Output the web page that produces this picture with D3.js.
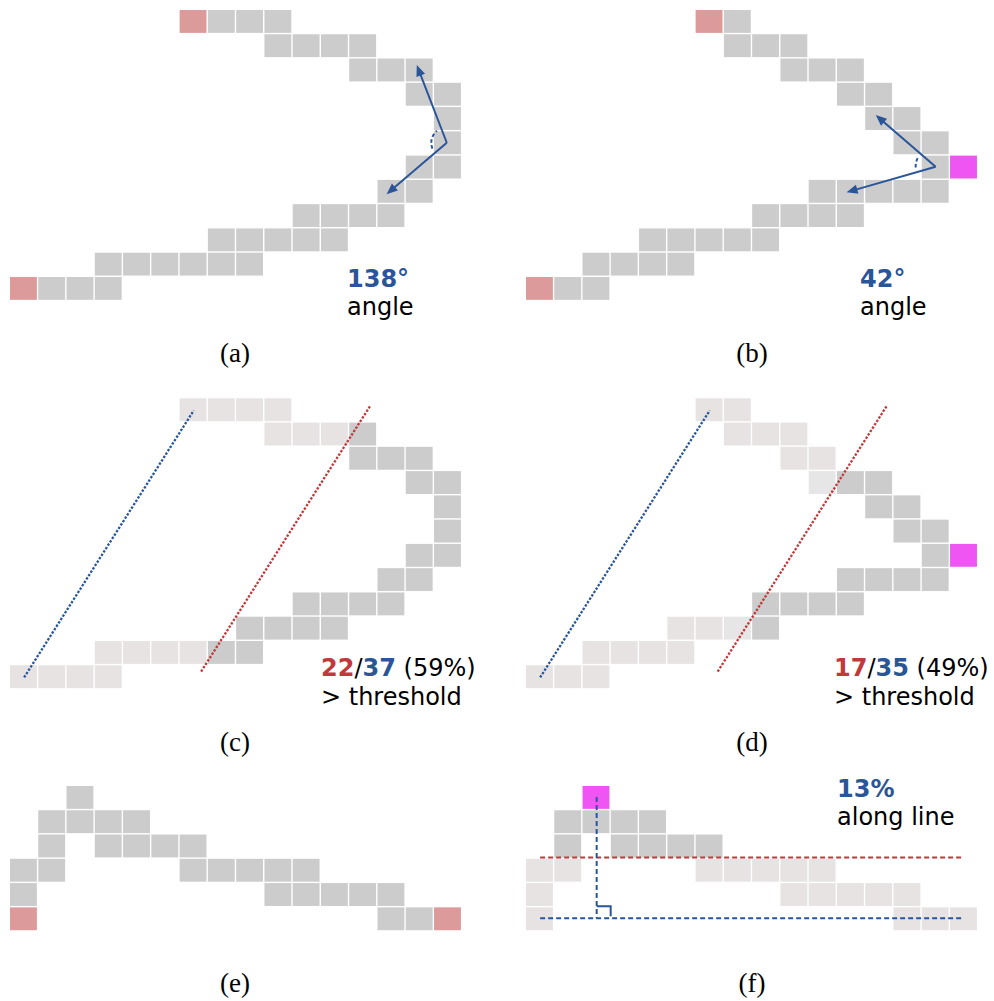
<!DOCTYPE html>
<html>
<head>
<meta charset="utf-8">
<script src="https://cdn.jsdelivr.net/npm/d3@7"></script>
<style>
  html, body { margin: 0; padding: 0; background: #fff; }
  svg { display: block; }
</style>
</head>
<body>
<div id="chart"></div>
<script>
// ---------------- data ----------------
// Each panel: list of rows (top→bottom), each row lists occupied column indices.
const rowsA = [[6,7,8,9],[9,10,11,12],[12,13,14],[14,15],[15],[15],[14,15],[13,14],[10,11,12,13],[7,8,9,10,11],[3,4,5,6,7,8],[0,1,2,3]];
const endsA = [[6,0],[0,11]];
const rowsB = [[6,7],[7,8,9],[9,10,11],[11,12],[12,13],[13,14],[14],[10,11,12,13,14],[8,9,10,11],[4,5,6,7,8],[2,3,4,5],[0,1,2]];
const endsB = [[6,0],[0,11]];
const pivotB = [15,6];

const rowsCDark  = [[],[12],[12,13,14],[14,15],[15],[15],[14,15],[13,14],[10,11,12,13],[8,9,10,11],[7,8],[]];
const rowsCLight = [[6,7,8,9],[9,10,11],[],[],[],[],[],[],[],[],[3,4,5,6],[0,1,2,3]];
const rowsDDark  = [[],[],[],[11,12],[12,13],[13,14],[14],[11,12,13,14],[8,9,10,11],[8],[],[]];
const rowsDLight = [[6,7],[7,8,9],[9,10],[],[],[],[],[],[],[5,6],[2,3,4,5],[0,1,2]];
const cellsDFaint = [[10,3],[7,9]];
const pivotD = [15,6];

const rowsE = [[2],[1,2,3,4],[1,3,4,5,6],[0,1,6,7,8,9,10],[0,9,10,11,12,13],[0,13,14,15]];
const endsE = [[0,5],[15,5]];
const rowsFDark  = [[],[1,2,3,4],[1,3,4,5,6],[],[],[]];
const rowsFLight = [[],[],[],[0,1,6,7,8,9,10],[0,9,10,11,12,13],[0,13,14,15]];
const pivotF = [2,0];

// annotation geometry in grid units
const arrowA = {vertex:[15.45,5.47], tips:[[14.39,2.27],[13.32,7.59]]};
const arrowB = {vertex:[14.49,6.46], tips:[[12.37,4.33],[11.34,7.51]]};
const blueLineC = [[0.5,11.5],[6.5,0.5]];
const redLineC  = [[6.76,11.26],[12.76,0.28]];
const blueLineD = [[0.5,11.5],[6.5,0.5]];
const redLineD  = [[6.78,11.26],[12.78,0.28]];
const redLineF  = [[0.5,2.95],[15.4,2.95]];
const blueLineF = [[0.5,5.45],[15.4,5.45]];
const perpF     = [[2.5,0.45],[2.5,5.45]];

// labels
const angleA = "138°", angleB = "42°";
const countC = ["22","37","(59%)"], countD = ["17","35","(49%)"];
const alongF = "13%";
const captions = ["(a)","(b)","(c)","(d)","(e)","(f)"];

// ---------------- style ----------------
const C_GRAY = "#cccccc", C_LIGHT = "#e7e3e3", C_FAINT = "#e6e6e6",
      C_PINK = "#dc9a9a", C_MAG = "#ef55f2", C_BLUE = "#2a5699", C_RED = "#c0393b";
const PX = 28.27, PY = 24.27, GAP = 1.4;
const FONT = "DejaVu Sans, sans-serif";
const FS = 24;

const svg = d3.select("#chart").append("svg").attr("width", 994).attr("height", 1001);

function panel(ox, oy) {
  return {
    x: d3.scaleLinear().domain([0,16]).range([ox, ox + 16*PX]),
    y: d3.scaleLinear().domain([0,12]).range([oy, oy + 12*PY]),
    g: svg.append("g")
  };
}
function rowsToCells(rows) {
  const out = [];
  rows.forEach((cols, r) => cols.forEach(c => out.push([c, r])));
  return out;
}
function drawCells(p, cells, color) {
  p.g.selectAll(null).data(cells).enter().append("rect")
    .attr("x", d => p.x(d[0])).attr("y", d => p.y(d[1]))
    .attr("width", p.x(1) - p.x(0) - GAP).attr("height", p.y(1) - p.y(0) - GAP)
    .attr("fill", color);
}
function drawLine(p, pts, color, dash, w) {
  const line = d3.line().x(d => p.x(d[0])).y(d => p.y(d[1]));
  p.g.append("path").attr("d", line(pts)).attr("fill", "none")
    .attr("stroke", color).attr("stroke-width", w || 2).attr("stroke-dasharray", dash);
}
function drawAngle(p, a, r, frac) {
  const vx = p.x(a.vertex[0]), vy = p.y(a.vertex[1]);
  const us = a.tips.map(t => {
    const dx = p.x(t[0]) - vx, dy = p.y(t[1]) - vy, L = Math.hypot(dx, dy);
    return {dx, dy, L, ux: dx / L, uy: dy / L, tx: p.x(t[0]), ty: p.y(t[1])};
  });
  us.forEach(u => {
    const HL = 11, HW = 4.6;
    const bx = u.tx - u.ux * HL, by = u.ty - u.uy * HL;
    p.g.append("line").attr("x1", vx).attr("y1", vy)
      .attr("x2", u.tx - u.ux * 6).attr("y2", u.ty - u.uy * 6)
      .attr("stroke", C_BLUE).attr("stroke-width", 2);
    p.g.append("path")
      .attr("d", `M${u.tx},${u.ty}L${bx - u.uy*HW},${by + u.ux*HW}L${bx + u.uy*HW},${by - u.ux*HW}Z`)
      .attr("fill", C_BLUE);
  });
  const bis = Math.atan2(us[0].uy + us[1].uy, us[0].ux + us[1].ux);
  const half = Math.acos(us[0].ux*us[1].ux + us[0].uy*us[1].uy) / 2 * frac;
  const path = d3.path();
  path.arc(vx, vy, r, bis - half, bis + half, false);
  p.g.append("path").attr("d", path.toString()).attr("fill", "none")
    .attr("stroke", C_BLUE).attr("stroke-width", 2).attr("stroke-dasharray", "3.5,2.5");
}
function label2(x, y1, y2, first, second) {
  const t1 = svg.append("text").attr("x", x).attr("y", y1)
    .attr("font-family", FONT).attr("font-size", FS);
  first(t1);
  svg.append("text").attr("x", x).attr("y", y2)
    .attr("font-family", FONT).attr("font-size", FS).attr("fill", "#000").text(second);
}

// ---------------- (a) ----------------
const pA = panel(10, 10);
drawCells(pA, rowsToCells(rowsA).filter(c => !endsA.some(e => e[0]===c[0] && e[1]===c[1])), C_GRAY);
drawCells(pA, endsA, C_PINK);
drawAngle(pA, arrowA, 15.5, 0.66);
label2(347, 287, 315, t => t.append("tspan").attr("font-weight", "bold").attr("fill", C_BLUE).text(angleA), "angle");

// ---------------- (b) ----------------
const pB = panel(526, 10);
drawCells(pB, rowsToCells(rowsB).filter(c => !endsB.some(e => e[0]===c[0] && e[1]===c[1])), C_GRAY);
drawCells(pB, endsB, C_PINK);
drawCells(pB, [pivotB], C_MAG);
drawAngle(pB, arrowB, 20, 0.5);
label2(860, 287, 315, t => t.append("tspan").attr("font-weight", "bold").attr("fill", C_BLUE).text(angleB), "angle");

// ---------------- (c) ----------------
const pC = panel(10, 398.3);
drawCells(pC, rowsToCells(rowsCLight), C_LIGHT);
drawCells(pC, rowsToCells(rowsCDark), C_GRAY);
drawLine(pC, blueLineC, C_BLUE, "2.4,1.6", 2.3);
drawLine(pC, redLineC, C_RED, "2.4,1.6", 2.3);
function countLabel(t, v) {
  t.append("tspan").attr("font-weight", "bold").attr("fill", C_RED).text(v[0]);
  t.append("tspan").attr("fill", "#000").text("/");
  t.append("tspan").attr("font-weight", "bold").attr("fill", C_BLUE).text(v[1]);
  t.append("tspan").attr("fill", "#000").text(" " + v[2]);
}
label2(321, 676, 705, t => countLabel(t, countC), "> threshold");

// ---------------- (d) ----------------
const pD = panel(526, 398.3);
drawCells(pD, rowsToCells(rowsDLight), C_LIGHT);
drawCells(pD, cellsDFaint, C_FAINT);
drawCells(pD, rowsToCells(rowsDDark), C_GRAY);
drawCells(pD, [pivotD], C_MAG);
drawLine(pD, blueLineD, C_BLUE, "2.4,1.6", 2.3);
drawLine(pD, redLineD, C_RED, "2.4,1.6", 2.3);
label2(834, 676, 705, t => countLabel(t, countD), "> threshold");

// ---------------- (e) ----------------
const pE = panel(10, 786);
drawCells(pE, rowsToCells(rowsE).filter(c => !endsE.some(e => e[0]===c[0] && e[1]===c[1])), C_GRAY);
drawCells(pE, endsE, C_PINK);

// ---------------- (f) ----------------
const pF = panel(526, 786);
drawCells(pF, rowsToCells(rowsFLight), C_LIGHT);
drawCells(pF, rowsToCells(rowsFDark), C_GRAY);
drawCells(pF, [pivotF], C_MAG);
drawLine(pF, redLineF, C_RED, "5,3");
drawLine(pF, blueLineF, C_BLUE, "5,3");
drawLine(pF, perpF, C_BLUE, "5,3");
{
  const fx = pF.x(perpF[1][0]), fy = pF.y(perpF[1][1]);
  pF.g.append("path").attr("d", `M${fx},${fy-12}H${fx+14}V${fy-2}`)
    .attr("fill", "none").attr("stroke", C_BLUE).attr("stroke-width", 2);
}
label2(837, 797, 825, t => t.append("tspan").attr("font-weight", "bold").attr("fill", C_BLUE).text(alongF), "along line");

// ---------------- captions ----------------
const capPos = [[235,362],[752,362],[235,751],[752,751],[235,992],[752,992]];
svg.selectAll(null).data(captions).enter().append("text")
  .attr("x", (d,i) => capPos[i][0]).attr("y", (d,i) => capPos[i][1])
  .attr("text-anchor", "middle")
  .attr("font-family", "Liberation Serif, serif").attr("font-size", 27)
  .attr("fill", "#000").text(d => d);
</script>
</body>
</html>
